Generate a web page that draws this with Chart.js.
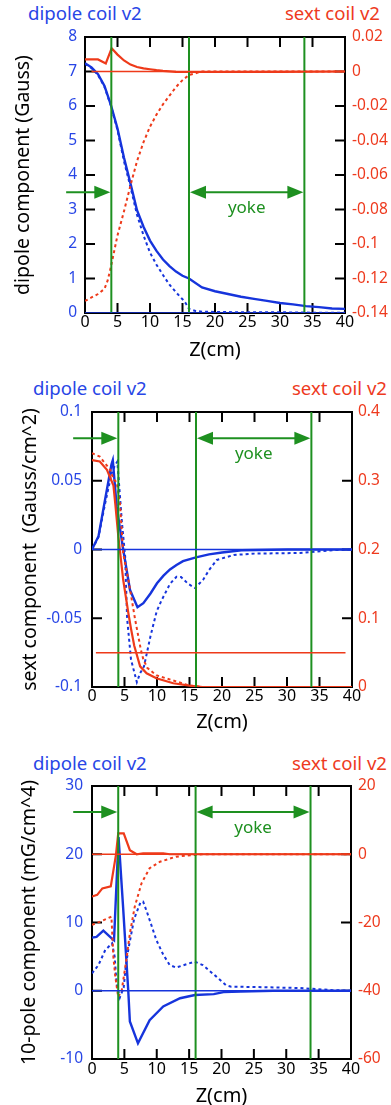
<!DOCTYPE html>
<html><head><meta charset="utf-8">
<script src="https://cdn.jsdelivr.net/npm/chart.js@4.4.0/dist/chart.umd.min.js"></script>
<style>
html,body{margin:0;padding:0;background:#fff;width:391px;height:1105px;overflow:hidden;position:relative;font-family:"Noto Sans",sans-serif;}
.c{position:absolute;left:0;width:391px;}
.t{position:absolute;font-size:18.6px;line-height:22px;white-space:nowrap;}
.b{color:#2846e6}
.r{color:#ee3a1e}
</style></head><body>
<div class="t b" style="left:28px;top:2px">dipole coil v2</div>
<div class="t r" style="right:11px;top:2px">sext coil v2</div>
<div class="t b" style="left:33px;top:377px">dipole coil v2</div>
<div class="t r" style="right:4px;top:377px">sext coil v2</div>
<div class="t b" style="left:33px;top:752px">dipole coil v2</div>
<div class="t r" style="right:4px;top:752px">sext coil v2</div>
<div class="c" style="top:0;height:370px"><canvas id="c1"></canvas></div>
<div class="c" style="top:365px;height:375px"><canvas id="c2"></canvas></div>
<div class="c" style="top:740px;height:370px"><canvas id="c3"></canvas></div>
<script>
// ---------- shared ----------
const xTicks = [0,5,10,15,20,25,30,35,40];
const greenLinesZ = [4.05, 16, 33.75];
const inletArrowZ = [-2.9, 4.05];
const yokeArrowZ = [16, 33.75];
const yokeLabel = 'yoke';

// ---------- panel 1 : dipole component ----------
const p1LeftTicks = [0,1,2,3,4,5,6,7,8];
const p1RightTicks = [-0.14,-0.12,-0.1,-0.08,-0.06,-0.04,-0.02,0,0.02];
const p1DipSolidZ = [0,1,2,3,4,5,6,7,8,9,10,11,12,13,14,15,16,18,20,22,24,26,28,30,32,34,36,38,40];
const p1DipSolidV = [7.24,7.12,6.92,6.58,6.02,5.35,4.5,3.75,2.98,2.5,2.1,1.8,1.55,1.36,1.2,1.08,1.0,0.74,0.63,0.55,0.47,0.41,0.35,0.29,0.25,0.2,0.17,0.13,0.12];
const p1DipDotZ = [0,1,2,3,4,5,6,7,8,9,10,11,12,13,14,15,15.5,16,17,18,20,25,30,35,40];
const p1DipDotV = [7.22,7.1,6.9,6.55,6.0,5.3,4.4,3.65,2.85,2.25,1.75,1.4,1.1,0.82,0.6,0.4,0.28,0.12,0.06,0.04,0.03,0.02,0.02,0.01,0.01];
const p1SextSolidZ = [0,1,2,3.2,4.1,5,6,7,8,9,10,11,12,13,14,16,20,30,40];
const p1SextSolidV = [0.007,0.007,0.007,0.0047,0.0135,0.0098,0.0064,0.004,0.0026,0.0018,0.0013,0.0008,0.0004,0.0001,-0.0002,-0.0003,-0.0003,-0.0002,0];
const p1SextDotZ = [0,1,2,3,3.5,4,4.5,5,6,7,8,9,10,11,12,13,14,15,16,17,18,20,30,40];
const p1SextDotV = [-0.133,-0.131,-0.129,-0.126,-0.121,-0.113,-0.104,-0.095,-0.081,-0.066,-0.052,-0.041,-0.032,-0.025,-0.019,-0.014,-0.009,-0.005,-0.002,-0.001,0,0,0,0];
const p1RedRefZ = [1, 40], p1RedRefV = [0, 0];
const p1BlueRefZ = [0, 40], p1BlueRefV = [0, 0];

// ---------- panel 2 : sext component ----------
const p2LeftTicks = [-0.1,-0.05,0,0.05,0.1];
const p2RightTicks = [0,0.1,0.2,0.3,0.4];
const p2DipSolidZ = [0,1,2,3,3.2,3.8,4.8,5.85,7,7.9,9,10,11,12,13,14,16,18,20,23,30,40];
const p2DipSolidV = [0,0.0097,0.036,0.062,0.065,0.031,0,-0.0295,-0.042,-0.039,-0.032,-0.0246,-0.019,-0.0145,-0.0113,-0.0085,-0.0057,-0.0035,-0.0022,-0.0005,0,0];
const p2DipDotZ = [0,1,2,3,3.5,3.9,4.6,5.1,5.4,6.0,6.9,7.4,8,9,9.95,10.7,12,13,13.7,14.8,15.85,17.1,18,19.2,21.8,25,32,37,40];
const p2DipDotV = [0,0.009,0.033,0.055,0.061,0.064,0.02,-0.005,-0.05,-0.08,-0.0965,-0.09,-0.085,-0.063,-0.045,-0.037,-0.025,-0.0198,-0.02,-0.025,-0.028,-0.022,-0.015,-0.0076,-0.004,-0.003,-0.0025,-0.0005,0];
const p2SextSolidZ = [0,1.2,2.3,3.3,3.6,4.05,4.8,5.6,6.0,6.5,7.4,8.4,9.9,12.5,15,17,40];
const p2SextSolidV = [0.330,0.328,0.316,0.293,0.265,0.219,0.156,0.107,0.085,0.06,0.03,0.02,0.0127,0.0054,0.002,0,0];
const p2SextDotZ = [0,1.2,2.8,3.3,3.8,4.3,4.8,5.6,6.6,7.0,7.5,7.9,8.5,9.9,13,15,17,40];
const p2SextDotV = [0.34,0.335,0.316,0.302,0.298,0.268,0.194,0.156,0.1,0.08,0.055,0.04,0.028,0.017,0.008,0.002,0,0];
const p2RedRefZ = [0.6, 39], p2RedRefV = [0.05, 0.05];
const p2BlueRefZ = [0, 40], p2BlueRefV = [0, 0];

// ---------- panel 3 : 10-pole component ----------
const p3LeftTicks = [-10,0,10,20,30];
const p3RightTicks = [-60,-40,-20,0,20];
const p3DipSolidZ = [0,0.7,1.75,3.0,3.4,4.1,4.8,5.6,5.85,7.1,8.9,11,13.6,15.9,18.8,20.3,23,28,40];
const p3DipSolidV = [7.78,7.9,8.8,7.7,7.4,22.5,12.3,0,-4.5,-7.7,-4.3,-2.3,-1.1,-0.62,-0.5,-0.2,-0.1,0,0];
const p3DipDotZ = [0,1.0,2.05,3.1,3.5,3.8,4.3,4.9,5.2,5.6,6.5,7.5,7.9,8.5,9.95,11,12,13,14,15.85,17.1,19.2,20.7,21.5,25,32,37,40];
const p3DipDotV = [2.55,3.77,5.97,6.95,5,1,-1,0.5,3.5,6,10.5,13,13.05,11.5,7.4,5.3,3.77,3.4,3.7,4.27,3.77,2.07,0.8,0.6,0.55,0.4,0.1,0];
const p3SextSolidZ = [0,0.8,1.6,2.9,3.7,4.05,4.9,5.85,6.9,7.9,11,12,40];
const p3SextSolidV = [-12.4,-11.9,-10,-9.4,-0.2,6.1,6.1,1.2,0,0.3,0.3,0,0];
const p3SextDotZ = [0,1.2,3.0,3.3,3.6,4.05,4.6,5.3,5.85,6.6,7.65,8.9,10.5,13,15.8,17,40];
const p3SextDotV = [-20.7,-19.8,-18.3,-30,-35.9,-41.8,-39.8,-31,-23.2,-15.4,-8.5,-4.1,-2.2,-0.7,-0.2,0,0];
const p3RedRefZ = [0, 40], p3RedRefV = [0, 0];
const p3BlueRefZ = [0, 40], p3BlueRefV = [0, 0];

// ---------- styling ----------
const BLUE = '#1634dc', RED = '#ee3a1a', GREEN = '#1e9020', BLUE_T = '#2846e6', RED_T = '#ee3a1e';
Chart.defaults.font.family = '"Noto Sans", sans-serif';
Chart.defaults.animation = false;

function ds(zs, vs, color, axis, dash, width) {
  return { data: zs.map((z, i) => ({x: z, y: vs[i]})), borderColor: color, borderWidth: width,
    borderDash: dash || [], yAxisID: axis, pointRadius: 0, fill: false, tension: 0 };
}
const fmt = v => String(+Number(v).toFixed(4));

const framePlugin = {
  id: 'frame',
  beforeDatasetsDraw(chart) {
    const {ctx, chartArea: a, scales} = chart;
    ctx.save();
    ctx.strokeStyle = '#000'; ctx.lineWidth = 2;
    ctx.strokeRect(a.left, a.top, a.right - a.left, a.bottom - a.top);
    const L = 10;
    ctx.beginPath();
    scales.x.ticks.forEach(t => { const p = scales.x.getPixelForValue(t.value);
      ctx.moveTo(p, a.top); ctx.lineTo(p, a.top + L); ctx.moveTo(p, a.bottom); ctx.lineTo(p, a.bottom - L); });
    scales.y.ticks.forEach(t => { const p = scales.y.getPixelForValue(t.value);
      ctx.moveTo(a.left, p); ctx.lineTo(a.left + L, p); });
    scales.y2.ticks.forEach(t => { const p = scales.y2.getPixelForValue(t.value);
      ctx.moveTo(a.right, p); ctx.lineTo(a.right - L, p); });
    ctx.stroke();
    ctx.restore();
  }
};
function head(ctx, x, y, dir) {
  ctx.beginPath(); ctx.moveTo(x, y); ctx.lineTo(x - dir * 16, y - 6.5); ctx.lineTo(x - dir * 16, y + 6.5); ctx.closePath(); ctx.fill();
}
const annotPlugin = {
  id: 'annot',
  afterDatasetsDraw(chart, args, opts) {
    const {ctx, scales} = chart;
    const X = v => scales.x.getPixelForValue(v);
    const y = scales.y.getPixelForValue(opts.level);
    ctx.save();
    ctx.strokeStyle = GREEN; ctx.fillStyle = GREEN; ctx.lineWidth = 2;
    const x0 = X(inletArrowZ[0]), x1 = X(inletArrowZ[1]);
    ctx.beginPath(); ctx.moveTo(x0, y); ctx.lineTo(x1 - 12, y); ctx.stroke(); head(ctx, x1 - 1, y, 1);
    const y0 = X(yokeArrowZ[0]), y1 = X(yokeArrowZ[1]);
    ctx.beginPath(); ctx.moveTo(y0 + 12, y); ctx.lineTo(y1 - 12, y); ctx.stroke();
    head(ctx, y0 + 1, y, -1); head(ctx, y1 - 1, y, 1);
    ctx.font = '17px "Noto Sans", sans-serif'; ctx.textAlign = 'center'; ctx.textBaseline = 'middle';
    ctx.fillText(yokeLabel, (y0 + y1) / 2, y + 16);
    ctx.restore();
  }
};

function makePanel(id, c) {
  const datasets = [
    ds(c.blueRef[0], c.blueRef[1], BLUE, 'y', [], 1.5),
    ds(c.redRef[0], c.redRef[1], RED, 'y2', [], 1.5),
    ...greenLinesZ.map(z => ds([z, z], [c.left[0], c.left[c.left.length - 1]], GREEN, 'y', [], 2)),
    ds(c.sd[0], c.sd[1], RED, 'y2', [3, 3], 2),
    ds(c.ss[0], c.ss[1], RED, 'y2', [], 2.2),
    ds(c.dd[0], c.dd[1], BLUE, 'y', [3, 3], 2),
    ds(c.ds[0], c.ds[1], BLUE, 'y', [], 2.4),
  ];
  new Chart(document.getElementById(id), {
    type: 'line',
    data: {datasets},
    options: {
      responsive: true, maintainAspectRatio: false,
      layout: {padding: {top: c.top, left: 0, right: 0, bottom: 0}},
      plugins: {legend: {display: false}, tooltip: {enabled: false}, annot: {level: c.level}},
      scales: {
        x: { type: 'linear', min: 0, max: 40,
          afterBuildTicks: s => { s.ticks = xTicks.map(v => ({value: v})); },
          afterFit: s => { s.height = c.xh; },
          grid: {display: false, drawTicks: false}, border: {display: false},
          ticks: {color: '#000', font: {size: 16}, padding: c.xpad, maxRotation: 0, autoSkip: false, callback: fmt},
          title: {display: true, text: 'Z(cm)', color: '#000', font: {size: 20}, padding: {top: 0, bottom: c.ztpad}} },
        y: { type: 'linear', position: 'left', min: c.left[0], max: c.left[c.left.length - 1],
          afterBuildTicks: s => { s.ticks = c.left.map(v => ({value: v})); },
          afterFit: s => { s.width = c.lw; },
          grid: {display: false, drawTicks: false}, border: {display: false},
          ticks: {color: BLUE_T, font: {size: 15.5}, padding: c.lpad, autoSkip: false, callback: fmt},
          title: {display: true, text: c.ytitle, color: '#000', font: {size: 19.5}, padding: {top: c.ytpad, bottom: 0}} },
        y2: { type: 'linear', position: 'right', min: c.right[0], max: c.right[c.right.length - 1],
          afterBuildTicks: s => { s.ticks = c.right.map(v => ({value: v})); },
          afterFit: s => { s.width = 391 - c.plotRight; },
          grid: {display: false, drawTicks: false}, border: {display: false},
          ticks: {color: RED_T, font: {size: 15.5}, padding: c.rpad, autoSkip: false, callback: fmt} }
      }
    },
    plugins: [framePlugin, annotPlugin]
  });
}

makePanel('c1', { top: 37, xh: 57, xpad: 0, ztpad: 8, lw: 85, lpad: 8, ytpad: 12, plotRight: 345, rpad: 7,
  left: p1LeftTicks, right: p1RightTicks, level: 3.5, ytitle: 'dipole component (Gauss)',
  ds: [p1DipSolidZ, p1DipSolidV], dd: [p1DipDotZ, p1DipDotV], ss: [p1SextSolidZ, p1SextSolidV], sd: [p1SextDotZ, p1SextDotV],
  redRef: [p1RedRefZ, p1RedRefV], blueRef: [p1BlueRefZ, p1BlueRefV] });
makePanel('c2', { top: 47, xh: 53, xpad: 0, ztpad: 6, lw: 92, lpad: 10, ytpad: 19, plotRight: 352, rpad: 6,
  left: p2LeftTicks, right: p2RightTicks, level: 0.081, ytitle: 'sext component  (Gauss/cm^2)',
  ds: [p2DipSolidZ, p2DipSolidV], dd: [p2DipDotZ, p2DipDotV], ss: [p2SextSolidZ, p2SextSolidV], sd: [p2SextDotZ, p2SextDotV],
  redRef: [p2RedRefZ, p2RedRefV], blueRef: [p2BlueRefZ, p2BlueRefV] });
makePanel('c3', { top: 46, xh: 51, xpad: 1, ztpad: 2, lw: 92, lpad: 9, ytpad: 18, plotRight: 351, rpad: 7,
  left: p3LeftTicks, right: p3RightTicks, level: 26.2, ytitle: '10-pole component (mG/cm^4)',
  ds: [p3DipSolidZ, p3DipSolidV], dd: [p3DipDotZ, p3DipDotV], ss: [p3SextSolidZ, p3SextSolidV], sd: [p3SextDotZ, p3SextDotV],
  redRef: [p3RedRefZ, p3RedRefV], blueRef: [p3BlueRefZ, p3BlueRefV] });
</script>
</body></html>
